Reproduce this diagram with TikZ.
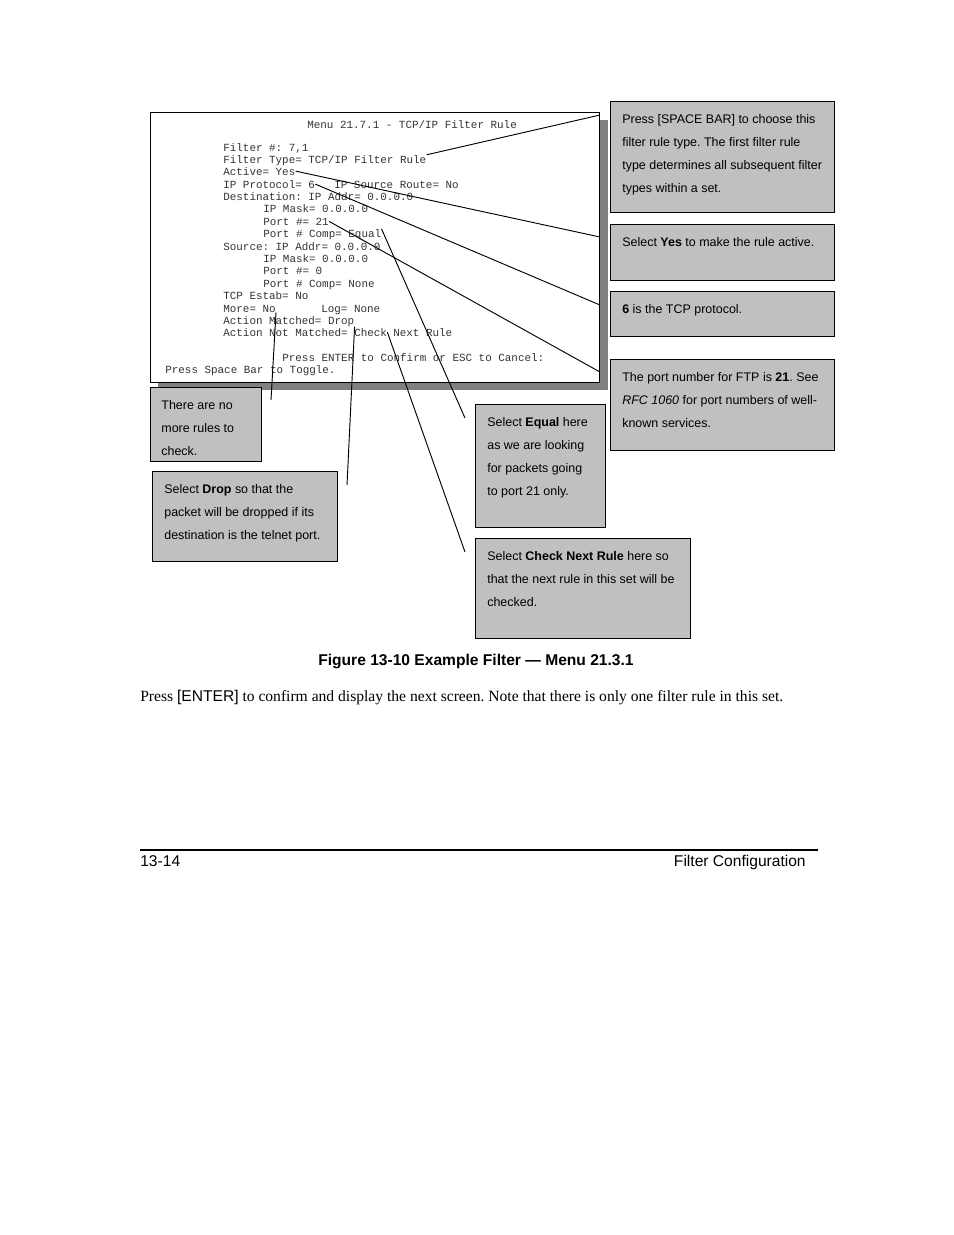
\documentclass[tikz,border=0pt]{standalone}
\usepackage{fontspec}
\setmainfont{Liberation Serif}
\setsansfont{Liberation Sans}
\setmonofont{Liberation Mono}
\usetikzlibrary{positioning, calc}
\definecolor{boxgray}{HTML}{C0C0C0}
\definecolor{shadowgray}{HTML}{808080}
\newcommand{\pxu}{0.6415pt}
\frenchspacing

\begin{document}
\begin{tikzpicture}[
    x=\pxu, y=-\pxu,
    screen/.style={draw, line width=0.9pt, fill=white, anchor=north west, inner sep=0},
    term/.style={anchor=base west, inner sep=0, font=\ttfamily\fontsize{7}{8}\selectfont, text=black!80},
    callout/.style={draw, line width=0.7pt, fill=boxgray, anchor=north west, inner sep=0},
    note/.style={align=left, inner sep=0, font=\sffamily\fontsize{8}{14.75}\selectfont},
    leader/.style={line width=0.6pt}
]
    \useasboundingbox (0,0) rectangle (954,1235);

    % menu screen with its shadow
    \fill[shadowgray] (158,120) rectangle (608,390);
    \node[screen, minimum width=449*\pxu, minimum height=270*\pxu] (scr) at (150,112) {};

    \node[term] (menu) at (307,128) {Menu 21.7.1 - TCP/IP Filter Rule};
    \node[term] (fnum) at (223,151) {Filter \#: 7,1};
    \node[term] (ftype) at (223,163) {Filter Type= TCP/IP Filter Rule};
    \node[term] (active) at (223,175) {Active= Yes};
    \node[term] (proto) at (223,188) {IP Protocol= 6};
    \node[term] (route) at (334,188) {IP Source Route= No};
    \node[term] (dest) at (223,200) {Destination: IP Addr= 0.0.0.0};
    \node[term] (dmask) at (263,212) {IP Mask= 0.0.0.0};
    \node[term] (dport) at (263,225) {Port \#= 21};
    \node[term] (dcomp) at (263,237) {Port \# Comp= Equal};
    \node[term] (src) at (223,250) {Source: IP Addr= 0.0.0.0};
    \node[term] (smask) at (263,262) {IP Mask= 0.0.0.0};
    \node[term] (sport) at (263,274) {Port \#= 0};
    \node[term] (scomp) at (263,287) {Port \# Comp= None};
    \node[term] (estab) at (223,299) {TCP Estab= No};
    \node[term] (more) at (223,312) {More= No};
    \node[term] (log) at (321,312) {Log= None};
    \node[term] (matched) at (223,324) {Action Matched= Drop};
    \node[term] (notmatched) at (223,336) {Action Not Matched= Check};
    \node[term] (nextrule) at (393,336) {Next Rule};
    \node[term] (enter) at (282,361) {Press ENTER to Confirm or ESC to Cancel:};
    \node[term] (toggle) at (165,373) {Press Space Bar to Toggle.};

    % callouts
    \node[callout, minimum width=224*\pxu, minimum height=111*\pxu] (spacebox) at (610,101) {};
    \node[note, below right=8.6pt and 7.7pt of spacebox.north west] (spacetext) {Press [SPACE BAR] to choose this\\filter rule type. The first filter rule\\type determines all subsequent filter\\types within a set.};
    \node[callout, minimum width=224*\pxu, minimum height=56*\pxu] (yesbox) at (610,224) {};
    \node[note, below right=8.6pt and 7.7pt of yesbox.north west] (yestext) {Select \textbf{Yes} to make the rule active.};
    \node[callout, minimum width=224*\pxu, minimum height=45*\pxu] (protobox) at (610,291) {};
    \node[note, below right=8.6pt and 7.7pt of protobox.north west] (prototext) {\textbf{6} is the TCP protocol.};
    \node[callout, minimum width=224*\pxu, minimum height=91*\pxu] (portbox) at (610,359) {};
    \node[note, below right=8.6pt and 7.7pt of portbox.north west] (porttext) {The port number for FTP is \textbf{21}. See\\\textit{RFC 1060} for port numbers of well-\\known services.};
    \node[callout, minimum width=111*\pxu, minimum height=74*\pxu] (morebox) at (150,387) {};
    \node[note, below right=8.6pt and 7.1pt of morebox.north west] (moretext) {There are no\\more rules to\\check.};
    \node[callout, minimum width=185*\pxu, minimum height=90*\pxu] (dropbox) at (152,471) {};
    \node[note, below right=8.6pt and 7.7pt of dropbox.north west] (droptext) {Select \textbf{Drop} so that the\\packet will be dropped if its\\destination is the telnet port.};
    \node[callout, minimum width=130*\pxu, minimum height=123*\pxu] (equalbox) at (475,404) {};
    \node[note, below right=8.6pt and 7.7pt of equalbox.north west] (equaltext) {Select \textbf{Equal} here\\as we are looking\\for packets going\\to port 21 only.};
    \node[callout, minimum width=215*\pxu, minimum height=100*\pxu] (checkbox) at (475,538) {};
    \node[note, below right=8.6pt and 7.7pt of checkbox.north west] (checktext) {Select \textbf{Check Next Rule} here so\\that the next rule in this set will be\\checked.};

    % leader lines
    \coordinate (spacetip) at (600,115);
    \coordinate (yestip) at (600,237);
    \coordinate (prototip) at (600,305);
    \coordinate (porttip) at (600,372);
    \coordinate (equaltip) at (465,418);
    \coordinate (checktip) at (465,552);
    \coordinate (moretip) at (271,400);
    \coordinate (droptip) at (347,485);
    \draw[leader] (ftype.north east) -- (spacetip);
    \draw[leader] (active.east) -- (yestip);
    \draw[leader] (proto.east) -- (prototip);
    \draw[leader] (dport.east) -- (porttip);
    \draw[leader] (dcomp.north east) -- (equaltip);
    \draw[leader] (notmatched.east) -- (checktip);
    \draw[leader] (more.south east) -- (moretip);
    \draw[leader] (matched.south east) -- (droptip);

    % caption, body text and footer
    \node[anchor=base, inner sep=0, font=\sffamily\bfseries\fontsize{10}{12}\selectfont] (caption) at (476,665) {Figure 13-10 Example Filter — Menu 21.3.1};
    \node[anchor=base west, inner sep=0, font=\fontsize{10}{12}\selectfont] (body) at (140,701) {Press {\sffamily [ENTER]} to confirm and display the next screen. Note that there is only one filter rule in this set.};
    \draw[line width=0.8pt] (140,850) -- (818,850);
    \node[anchor=base west, inner sep=0, font=\sffamily\fontsize{10}{12}\selectfont] (pagenum) at (140,866) {13-14};
    \node[anchor=base east, inner sep=0, font=\sffamily\fontsize{10}{12}\selectfont] (chapter) at (806,866) {Filter Configuration};
\end{tikzpicture}
\end{document}
